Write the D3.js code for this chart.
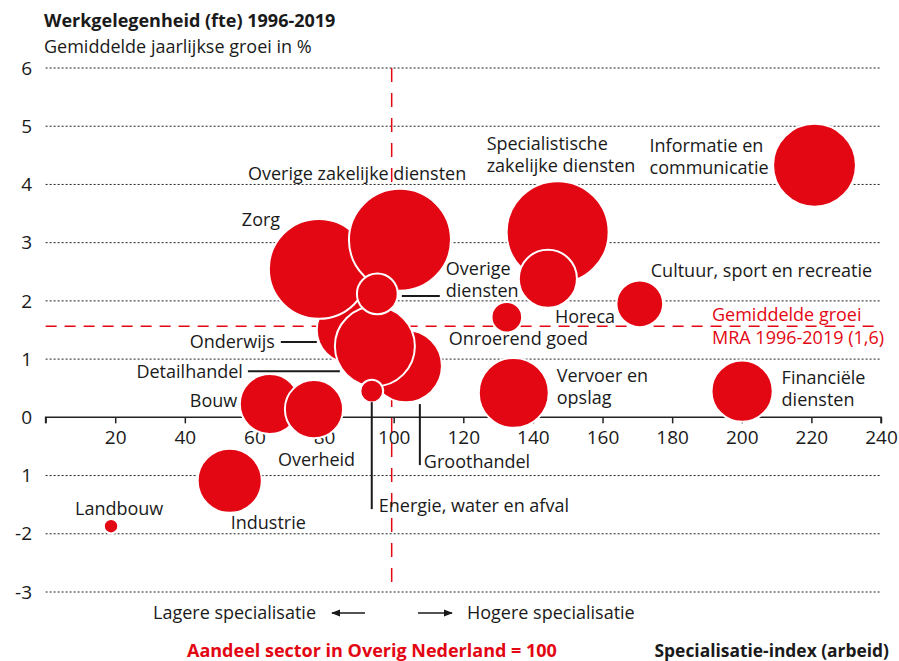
<!DOCTYPE html>
<html>
<head>
<meta charset="utf-8">
<script src="https://cdn.jsdelivr.net/npm/d3@7"></script>
<style>
  body { margin: 0; background: #fff; }
  svg text { font-family: "Open Sans", sans-serif; fill: #1a1a1a; }
</style>
</head>
<body>
<svg id="chart" width="899" height="661"></svg>
<script>
// sectoren MRA, specialisatie-index (x), groei fte % (y), omvang (bolgrootte)
var sectors = ["Landbouw", "Industrie", "Bouw", "Overheid", "Onderwijs", "Zorg",
  "Overige zakelijke diensten", "Groothandel", "Detailhandel", "Energie, water en afval",
  "Overige diensten", "Specialistische zakelijke diensten", "Horeca", "Onroerend goed",
  "Vervoer en opslag", "Financiële diensten", "Cultuur, sport en recreatie",
  "Informatie en communicatie"];
var specIndex = [18.8, 52.9, 64.4, 77.1, 87.4, 78.5, 101.8, 103.5, 94.6, 93.7,
  95.3, 147.1, 144.3, 132.5, 134.5, 200.1, 170.7, 220.9];
var groei = [-1.87, -1.09, 0.23, 0.14, 1.50, 2.55, 3.05, 0.88, 1.22, 0.45,
  2.12, 3.18, 2.38, 1.72, 0.42, 0.45, 1.95, 4.33];
var omvang = [4, 79, 69, 65, 84, 192, 200, 100, 123, 10,
  32, 200, 65, 18, 94, 72, 42, 132];

var xTicks = [0, 20, 40, 60, 80, 100, 120, 140, 160, 180, 200, 220, 240];
var yTicks = [-3, -2, -1, 0, 1, 2, 3, 4, 5, 6];
var yTickLabels = ["-3", "-2", "1", "0", "1", "2", "3", "4", "5", "6"];
var gemGroei = 1.6;
var refIndex = 100;

// label placement: text lines, offset from bubble centre (px), anchor, leader line
var labels = {
  "Landbouw": { lines: ["Landbouw"], dx: -36, dy: -18 },
  "Industrie": { lines: ["Industrie"], dx: 1, dy: 42 },
  "Bouw": { lines: ["Bouw"], dx: -80, dy: -3 },
  "Overheid": { lines: ["Overheid"], dx: -36, dy: 51 },
  "Onderwijs": { lines: ["Onderwijs"], dx: -75, dy: 12, anchor: "end", leader: [[-69, 12], [-33, 12]] },
  "Zorg": { lines: ["Zorg"], dx: -77, dy: -49 },
  "Overige zakelijke diensten": { lines: ["Overige zakelijke diensten"], dx: -152, dy: -66 },
  "Groothandel": { lines: ["Groothandel"], dx: 18, dy: 96, leader: [[14, 38], [14, 99]] },
  "Detailhandel": { lines: ["Detailhandel"], dx: -132, dy: 25, anchor: "end", leader: [[-127, 25], [-35, 25]] },
  "Energie, water en afval": { lines: ["Energie, water en afval"], dx: 7, dy: 115, leader: [[0, 11], [0, 118]] },
  "Overige diensten": { lines: ["Overige", "diensten"], dx: 68.5, dy: -25, leader: [[24.5, 2], [62.5, 2]] },
  "Specialistische zakelijke diensten": { lines: ["Specialistische", "zakelijke diensten"], dx: -71, dy: -88 },
  "Horeca": { lines: ["Horeca"], dx: 7, dy: 38 },
  "Onroerend goed": { lines: ["Onroerend goed"], dx: -58, dy: 22 },
  "Vervoer en opslag": { lines: ["Vervoer en", "opslag"], dx: 43, dy: -17 },
  "Financiële diensten": { lines: ["Financiële", "diensten"], dx: 39.5, dy: -13 },
  "Cultuur, sport en recreatie": { lines: ["Cultuur, sport en recreatie"], dx: 11, dy: -33 },
  "Informatie en communicatie": { lines: ["Informatie en", "communicatie"], dx: -165, dy: -20 }
};

var red = "#e30613";
var svg = d3.select("#chart");

var x = d3.scaleLinear().domain([0, 240]).range([45.6, 881]);
var y = d3.scaleLinear().domain([-3, 6]).range([592, 68]);
var r = d3.scaleSqrt().domain([0, 200]).range([0, 51]);

var data = sectors.map(function(s, i) {
  return { name: s, x: specIndex[i], y: groei[i], size: omvang[i] };
});

// titel
svg.append("text").attr("x", 44).attr("y", 27)
  .style("font-weight", "bold").style("font-size", "18px")
  .text("Werkgelegenheid (fte) 1996-2019");
svg.append("text").attr("x", 44).attr("y", 53)
  .style("font-size", "18px")
  .text("Gemiddelde jaarlijkse groei in %");

// gridlijnen
svg.append("g").selectAll("line")
  .data(yTicks.filter(function(d) { return d !== 0; }))
  .enter().append("line")
  .attr("x1", x(0)).attr("x2", x(240))
  .attr("y1", function(d) { return y(d); })
  .attr("y2", function(d) { return y(d); })
  .attr("stroke", "#222").attr("stroke-width", 1)
  .attr("stroke-dasharray", "2,2");

// y labels
svg.append("g").selectAll("text")
  .data(yTicks)
  .enter().append("text")
  .attr("x", 32).attr("y", function(d) { return y(d); })
  .attr("dy", "0.35em")
  .attr("text-anchor", "end")
  .style("font-size", "19px")
  .text(function(d, i) { return yTickLabels[i]; });

// x as
var xAxis = d3.axisBottom(x)
  .tickValues(xTicks)
  .tickSize(6)
  .tickPadding(7)
  .tickFormat(function(d) { return d === 0 ? "" : d; });
var gx = svg.append("g")
  .attr("transform", "translate(0," + y(0) + ")")
  .call(xAxis);
gx.select(".domain").attr("stroke", "#222").attr("stroke-width", 1.5)
  .attr("d", "M" + x(0) + ",6V0H" + x(240) + "V6");
gx.selectAll(".tick line").attr("stroke", "#222").attr("stroke-width", 1.5);
gx.selectAll(".tick text")
  .style("font-family", "'Open Sans', sans-serif")
  .style("font-size", "19px").attr("fill", "#1a1a1a");

// referentielijnen
svg.append("line")
  .attr("x1", x(refIndex) - 2).attr("x2", x(refIndex) - 2)
  .attr("y1", y(6)).attr("y2", y(-3) - 4)
  .attr("stroke", red).attr("stroke-width", 1.5)
  .attr("stroke-dasharray", "14,11");
svg.append("line")
  .attr("x1", x(0)).attr("x2", x(240))
  .attr("y1", y(gemGroei) + 2).attr("y2", y(gemGroei) + 2)
  .attr("stroke", red).attr("stroke-width", 1.5)
  .attr("stroke-dasharray", "11,8");

// bellen
svg.append("g").selectAll("circle")
  .data(data)
  .enter().append("circle")
  .attr("cx", function(d) { return x(d.x); })
  .attr("cy", function(d) { return y(d.y); })
  .attr("r", function(d) { return r(d.size); })
  .attr("fill", red)
  .attr("stroke", "#fff").attr("stroke-width", 2);

// labels en verbindingslijnen
var lab = svg.append("g");
data.forEach(function(d) {
  var l = labels[d.name];
  var cx = x(d.x), cy = y(d.y);
  if (l.leader) {
    lab.append("line")
      .attr("x1", cx + l.leader[0][0]).attr("y1", cy + l.leader[0][1])
      .attr("x2", cx + l.leader[1][0]).attr("y2", cy + l.leader[1][1])
      .attr("stroke", "#1a1a1a").attr("stroke-width", 2);
  }
  l.lines.forEach(function(t, j) {
    lab.append("text")
      .attr("x", cx + l.dx)
      .attr("y", cy + l.dy + j * 22)
      .attr("dy", "0.35em")
      .attr("text-anchor", l.anchor || "start")
      .style("font-size", "18px")
      .text(t);
  });
});

// gemiddelde groei label
svg.append("text").attr("x", 712).attr("y", 315).attr("dy", "0.35em")
  .style("font-size", "18px").style("fill", red).text("Gemiddelde groei");
svg.append("text").attr("x", 712).attr("y", 338).attr("dy", "0.35em")
  .style("font-size", "18px").style("fill", red).text("MRA 1996-2019 (1,6)");

// pijlen specialisatie
var defs = svg.append("defs");
defs.append("marker").attr("id", "arr")
  .attr("viewBox", "0 0 10 10").attr("refX", 9).attr("refY", 5)
  .attr("markerWidth", 9).attr("markerHeight", 9)
  .attr("markerUnits", "userSpaceOnUse")
  .attr("orient", "auto")
  .append("path").attr("d", "M0,1L10,5L0,9Z").attr("fill", "#1a1a1a");

svg.append("text").attr("x", 153).attr("y", 613).attr("dy", "0.35em")
  .style("font-size", "18px").text("Lagere specialisatie");
svg.append("line").attr("x1", 365).attr("x2", 332).attr("y1", 613).attr("y2", 613)
  .attr("stroke", "#1a1a1a").attr("stroke-width", 1.5).attr("marker-end", "url(#arr)");
svg.append("line").attr("x1", 418).attr("x2", 452).attr("y1", 613).attr("y2", 613)
  .attr("stroke", "#1a1a1a").attr("stroke-width", 1.5).attr("marker-end", "url(#arr)");
svg.append("text").attr("x", 467).attr("y", 613).attr("dy", "0.35em")
  .style("font-size", "18px").text("Hogere specialisatie");

svg.append("text").attr("x", 187).attr("y", 651).attr("dy", "0.35em")
  .style("font-size", "18px").style("font-weight", "bold").style("fill", red)
  .text("Aandeel sector in Overig Nederland = 100");
svg.append("text").attr("x", 889).attr("y", 651).attr("dy", "0.35em")
  .attr("text-anchor", "end")
  .style("font-size", "17.4px").style("font-weight", "bold")
  .text("Specialisatie-index (arbeid)");
</script>
</body>
</html>
